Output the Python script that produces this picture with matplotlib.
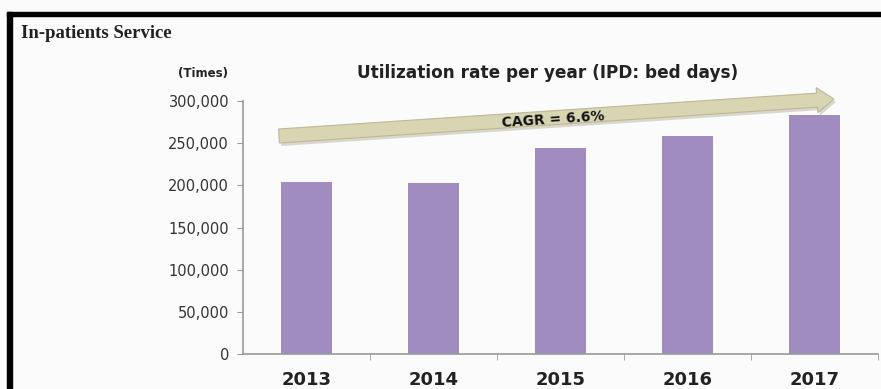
import matplotlib.pyplot as plt
from matplotlib.patches import FancyArrow
from matplotlib.ticker import FuncFormatter
import numpy as np

years = ['2013', '2014', '2015', '2016', '2017']
bed_days = [204500, 202500, 244700, 259000, 283500]
y_ticks = [0, 50000, 100000, 150000, 200000, 250000, 300000]
cagr_label = 'CAGR = 6.6%'

bar_color = '#a08cbf'
bg = '#fbfbfb'

fig = plt.figure(figsize=(8.81, 3.89), dpi=100, facecolor=bg)

# black frame on top and left
fig.patches.append(plt.Rectangle((0.008, 0.959), 0.992, 0.011, transform=fig.transFigure,
                                 color='black', zorder=5))
fig.patches.append(plt.Rectangle((0.008, 0.0), 0.006, 0.97, transform=fig.transFigure,
                                 color='black', zorder=5))

fig.text(0.024, 0.913, 'In-patients Service', family='Liberation Serif', weight='bold',
         fontsize=13.5, color='#222222', va='center')

ax = fig.add_axes([0.2758, 0.0892, 0.7208, 0.6512])
ax.set_facecolor(bg)
x = np.arange(len(years))
ax.bar(x, bed_days, width=0.4, color=bar_color, zorder=2)

ax.set_xlim(-0.5, len(years) - 0.5)
ax.set_ylim(0, 300000)
ax.set_yticks(y_ticks)
ax.yaxis.set_major_formatter(FuncFormatter(lambda v, p: '{:,.0f}'.format(v)))
ax.set_xticks(x)
ax.set_xticklabels(years, fontsize=13, weight='bold', color='#222222')
ax.tick_params(axis='x', length=0, pad=12)
ax.set_xticks(np.arange(len(years)) + 0.5, minor=True)
ax.tick_params(axis='x', which='minor', length=4, color='#999999', direction='out')
ax.tick_params(axis='y', length=4, color='#999999', labelsize=10.5, labelcolor='#333333', pad=6)

for s in ['top', 'right']:
    ax.spines[s].set_visible(False)
for s in ['left', 'bottom']:
    ax.spines[s].set_color('#999999')
    ax.spines[s].set_linewidth(1.2)

fig.text(0.23, 0.812, '(Times)', fontsize=8.5, weight='bold', color='#222222',
         ha='center', va='center')
fig.text(0.6215, 0.812, 'Utilization rate per year (IPD: bed days)', fontsize=12.2,
         weight='bold', color='#222222', ha='center', va='center')

# growth arrow in pixel-based figure coords
W, H = 881, 389
x0, y0 = 279 / W, (H - 136) / H
x1, y1 = 834 / W, (H - 99) / H
arr = FancyArrow(x0 * W, y0 * H, (x1 - x0) * W, (y1 - y0) * H, width=14,
                 head_width=25, head_length=17, length_includes_head=True,
                 transform=None, facecolor='#d8d5b3', edgecolor='#bdb898',
                 linewidth=0.8, zorder=6)
shadow = FancyArrow(x0 * W + 2, y0 * H - 3, (x1 - x0) * W, (y1 - y0) * H, width=14,
                    head_width=25, head_length=17, length_includes_head=True,
                    transform=None, facecolor='#b8b49a', edgecolor='none', alpha=0.5,
                    zorder=5.5)
fig.patches.append(shadow)
fig.patches.append(arr)
angle = np.degrees(np.arctan2((y1 - y0) * H, (x1 - x0) * W))
fig.text(553 / W, (H - 120) / H, cagr_label, fontsize=10, weight='bold', color='#111111',
         ha='center', va='center', rotation=angle, zorder=7)

fig.savefig('out.png', dpi=100, facecolor=bg)
